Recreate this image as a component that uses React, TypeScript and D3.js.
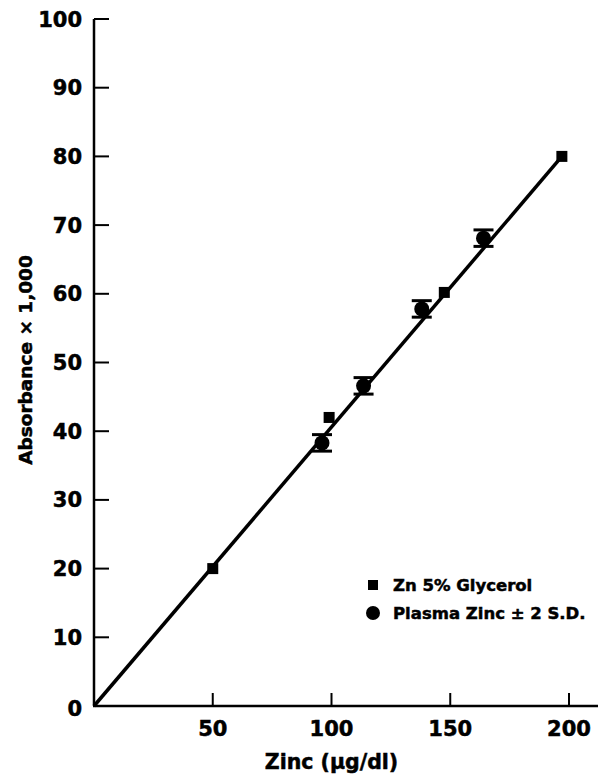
import React from "react";
import * as d3 from "d3";

const xTicks = [50, 100, 150, 200];
const yTicks = [0, 10, 20, 30, 40, 50, 60, 70, 80, 90, 100];

// Zn 5% Glycerol standards (squares)
const glycerolX = [50, 99, 147.5, 197];
const glycerolY = [20, 42, 60.2, 80];

// Plasma zinc ± 2 S.D. (circles with error bars)
const plasmaX = [96, 113.5, 138, 164];
const plasmaY = [38.3, 46.6, 57.8, 68.1];
const plasmaSD2 = [1.2, 1.2, 1.2, 1.2];

// fitted line endpoints
const fitX = [0, 197];
const fitY = [0, 80];

const W = 598;
const H = 776;

export default function App() {
  const x = d3.scaleLinear().domain([0, 200]).range([94, 569]);
  const y = d3.scaleLinear().domain([0, 100]).range([706, 19]);
  const font = "'DejaVu Sans', Arial, sans-serif";
  const line = d3
    .line<number>()
    .x((_, i) => x(fitX[i]))
    .y((_, i) => y(fitY[i]));
  const sq = 11;
  const heavy = { stroke: "#000", strokeWidth: 0.5 };
  return (
    <svg
      width={W}
      height={H}
      style={{ position: "absolute", left: 0, top: 0, background: "#fff" }}
    >
      {/* axes */}
      <line x1={x(0)} x2={x(0)} y1={y(100)} y2={y(0)} stroke="#000" strokeWidth={2.5} />
      <line x1={x(0) - 1} x2={598} y1={y(0)} y2={y(0)} stroke="#000" strokeWidth={2.5} />
      {yTicks.map((t) => (
        <g key={"y" + t}>
          {t > 0 && (
            <line x1={x(0)} x2={x(0) + 15} y1={y(t)} y2={y(t)} stroke="#000" strokeWidth={2} />
          )}
          <text
            x={x(0) - 12}
            y={y(t) + (t === 0 ? 2 : 0)}
            dy="0.36em"
            textAnchor="end"
            fontFamily={font}
            fontWeight="bold"
            fontSize={21}
            {...heavy}
          >
            {t}
          </text>
        </g>
      ))}
      {xTicks.map((t) => (
        <g key={"x" + t}>
          <line x1={x(t)} x2={x(t)} y1={y(0)} y2={y(0) - 13} stroke="#000" strokeWidth={2} />
          <text
            x={x(t)}
            y={y(0) + 30}
            textAnchor="middle"
            fontFamily={font}
            fontWeight="bold"
            fontSize={21}
            {...heavy}
          >
            {t}
          </text>
        </g>
      ))}
      <text
        x={x(100)}
        y={769}
        textAnchor="middle"
        fontFamily={font}
        fontWeight="bold"
        fontSize={20.5}
        {...heavy}
      >
        Zinc (μg/dl)
      </text>
      <text
        transform={`translate(32, ${(255 + 465) / 2}) rotate(-90)`}
        textAnchor="middle"
        fontFamily={font}
        fontWeight="bold"
        fontSize={18.5}
        {...heavy}
      >
        Absorbance × 1,000
      </text>

      {/* fit line */}
      <path d={line(fitX) || ""} fill="none" stroke="#000" strokeWidth={3.5} />

      {/* glycerol squares */}
      {glycerolX.map((gx, i) => (
        <rect
          key={"g" + i}
          x={x(gx) - sq / 2}
          y={y(glycerolY[i]) - sq / 2}
          width={sq}
          height={sq}
          fill="#000"
        />
      ))}

      {/* plasma circles with error bars */}
      {plasmaX.map((px, i) => {
        const cx = x(px);
        const top = y(plasmaY[i] + plasmaSD2[i]);
        const bot = y(plasmaY[i] - plasmaSD2[i]);
        return (
          <g key={"p" + i}>
            <line x1={cx} x2={cx} y1={top} y2={bot} stroke="#000" strokeWidth={3} />
            <line x1={cx - 10} x2={cx + 10} y1={top} y2={top} stroke="#000" strokeWidth={3} />
            <line x1={cx - 10} x2={cx + 10} y1={bot} y2={bot} stroke="#000" strokeWidth={3} />
            <circle cx={cx} cy={y(plasmaY[i])} r={7.5} fill="#000" />
          </g>
        );
      })}

      {/* legend */}
      <rect x={368} y={580} width={10} height={10} fill="#000" />
      <text x={393} y={585} dy="0.36em" fontFamily={font} fontWeight="bold" fontSize={16.5} {...heavy}>
        Zn 5% Glycerol
      </text>
      <circle cx={373} cy={613} r={7} fill="#000" />
      <text x={393} y={613} dy="0.36em" fontFamily={font} fontWeight="bold" fontSize={16.5} {...heavy}>
        Plasma Zinc ± 2 S.D.
      </text>
    </svg>
  );
}
